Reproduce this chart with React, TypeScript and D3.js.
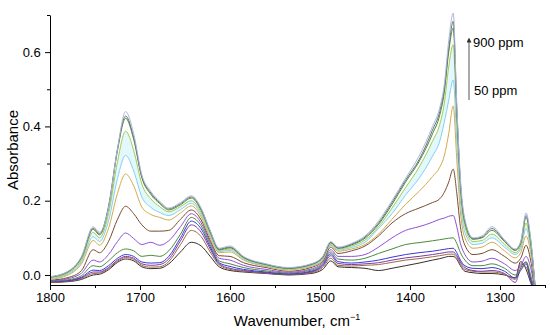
import React, { useEffect, useRef } from 'react';
import * as d3 from 'd3';

// wavenumber grid (cm-1) shared by all spectra
const wavenumbers = [1800, 1780, 1765, 1752, 1745, 1735, 1725, 1716, 1707, 1698, 1688, 1678, 1668, 1655, 1643, 1632, 1622, 1612, 1600, 1585, 1560, 1535, 1510, 1497, 1488, 1480, 1465, 1450, 1435, 1420, 1405, 1390, 1375, 1367, 1362, 1357, 1352, 1348, 1344, 1339, 1330, 1320, 1309, 1295, 1283, 1277, 1271, 1266, 1260];

// absorbance, highest concentration (900 ppm) first, 50 ppm last
const s1 = [-0.005, 0.01, 0.05, 0.13, 0.115, 0.18, 0.34, 0.44, 0.38, 0.27, 0.225, 0.198, 0.18, 0.195, 0.213, 0.18, 0.12, 0.072, 0.078, 0.05, 0.03, 0.02, 0.03, 0.05, 0.09, 0.075, 0.085, 0.105, 0.145, 0.2, 0.26, 0.32, 0.4, 0.45, 0.51, 0.63, 0.705, 0.46, 0.26, 0.15, 0.1, 0.105, 0.13, 0.095, 0.07, 0.09, 0.167, 0.1, -0.06];
const s2 = [-0.005, 0.009, 0.048, 0.126, 0.111, 0.185, 0.34, 0.428, 0.37, 0.265, 0.221, 0.195, 0.178, 0.192, 0.21, 0.177, 0.118, 0.07, 0.075, 0.048, 0.029, 0.019, 0.029, 0.048, 0.088, 0.073, 0.083, 0.102, 0.14, 0.195, 0.255, 0.31, 0.39, 0.44, 0.5, 0.61, 0.683, 0.45, 0.25, 0.145, 0.098, 0.102, 0.125, 0.092, 0.068, 0.088, 0.16, 0.095, -0.06];
const s3 = [-0.006, 0.008, 0.046, 0.123, 0.108, 0.18, 0.335, 0.422, 0.365, 0.262, 0.217, 0.192, 0.175, 0.189, 0.207, 0.174, 0.115, 0.068, 0.073, 0.047, 0.028, 0.018, 0.028, 0.047, 0.087, 0.072, 0.081, 0.099, 0.136, 0.19, 0.25, 0.305, 0.38, 0.43, 0.49, 0.6, 0.665, 0.44, 0.245, 0.14, 0.096, 0.1, 0.12, 0.09, 0.066, 0.085, 0.155, 0.09, -0.06];
const s4 = [-0.008, 0.005, 0.04, 0.115, 0.1, 0.165, 0.305, 0.387, 0.335, 0.245, 0.205, 0.184, 0.17, 0.184, 0.2, 0.168, 0.11, 0.066, 0.07, 0.045, 0.027, 0.017, 0.027, 0.045, 0.085, 0.07, 0.078, 0.094, 0.13, 0.18, 0.235, 0.29, 0.36, 0.405, 0.46, 0.56, 0.62, 0.41, 0.23, 0.13, 0.09, 0.093, 0.11, 0.083, 0.06, 0.078, 0.14, 0.08, -0.06];
const s5 = [-0.01, 0.002, 0.035, 0.103, 0.09, 0.145, 0.26, 0.322, 0.28, 0.21, 0.182, 0.168, 0.16, 0.176, 0.193, 0.162, 0.105, 0.063, 0.066, 0.042, 0.025, 0.016, 0.025, 0.042, 0.082, 0.067, 0.074, 0.088, 0.125, 0.165, 0.215, 0.26, 0.32, 0.36, 0.41, 0.47, 0.525, 0.36, 0.2, 0.115, 0.082, 0.085, 0.1, 0.075, 0.055, 0.07, 0.125, 0.07, -0.06];
const s6 = [-0.012, 0.0, 0.03, 0.093, 0.08, 0.125, 0.22, 0.272, 0.24, 0.183, 0.163, 0.155, 0.148, 0.167, 0.186, 0.156, 0.1, 0.06, 0.062, 0.04, 0.023, 0.014, 0.023, 0.04, 0.08, 0.064, 0.07, 0.082, 0.11, 0.15, 0.19, 0.225, 0.265, 0.29, 0.32, 0.38, 0.455, 0.31, 0.17, 0.1, 0.072, 0.075, 0.088, 0.065, 0.046, 0.06, 0.105, 0.06, -0.06];
const s7 = [-0.014, -0.007, 0.012, 0.068, 0.06, 0.09, 0.15, 0.185, 0.165, 0.135, 0.118, 0.118, 0.12, 0.15, 0.175, 0.148, 0.093, 0.052, 0.05, 0.033, 0.02, 0.01, 0.02, 0.037, 0.075, 0.058, 0.065, 0.078, 0.105, 0.14, 0.165, 0.18, 0.195, 0.205, 0.222, 0.25, 0.285, 0.22, 0.13, 0.08, 0.055, 0.058, 0.068, 0.05, 0.032, 0.045, 0.08, 0.04, -0.06];
const s8 = [-0.016, -0.01, 0.005, 0.04, 0.035, 0.055, 0.09, 0.113, 0.098, 0.082, 0.088, 0.08, 0.092, 0.13, 0.165, 0.14, 0.088, 0.045, 0.04, 0.026, 0.015, 0.007, 0.016, 0.033, 0.068, 0.05, 0.05, 0.055, 0.075, 0.1, 0.12, 0.13, 0.142, 0.15, 0.153, 0.158, 0.16, 0.13, 0.085, 0.055, 0.035, 0.037, 0.045, 0.03, 0.012, 0.025, 0.05, 0.02, -0.06];
const s9 = [-0.017, -0.013, -0.002, 0.025, 0.022, 0.038, 0.06, 0.07, 0.065, 0.05, 0.053, 0.05, 0.065, 0.11, 0.155, 0.132, 0.082, 0.038, 0.03, 0.02, 0.011, 0.005, 0.013, 0.03, 0.062, 0.043, 0.04, 0.045, 0.058, 0.07, 0.082, 0.087, 0.092, 0.095, 0.097, 0.099, 0.1, 0.085, 0.06, 0.04, 0.025, 0.025, 0.03, 0.018, 0.0, 0.015, 0.035, 0.0, -0.06];
const s10 = [-0.018, -0.015, -0.006, 0.013, 0.012, 0.025, 0.045, 0.055, 0.05, 0.035, 0.032, 0.033, 0.05, 0.1, 0.145, 0.124, 0.076, 0.033, 0.023, 0.015, 0.008, 0.003, 0.01, 0.027, 0.057, 0.036, 0.032, 0.035, 0.04, 0.048, 0.055, 0.06, 0.064, 0.067, 0.069, 0.071, 0.072, 0.06, 0.04, 0.025, 0.018, 0.017, 0.02, 0.01, -0.008, 0.012, 0.03, -0.01, -0.06];
const s11 = [-0.019, -0.016, -0.008, 0.008, 0.008, 0.02, 0.04, 0.05, 0.045, 0.03, 0.026, 0.028, 0.043, 0.092, 0.135, 0.115, 0.07, 0.03, 0.018, 0.012, 0.006, 0.002, 0.008, 0.024, 0.052, 0.031, 0.028, 0.03, 0.033, 0.04, 0.046, 0.05, 0.055, 0.058, 0.06, 0.062, 0.062, 0.052, 0.035, 0.02, 0.012, 0.01, 0.012, 0.004, -0.02, 0.02, 0.035, -0.015, -0.06];
const s12 = [-0.02, -0.017, -0.01, 0.004, 0.005, 0.017, 0.037, 0.047, 0.042, 0.026, 0.021, 0.022, 0.036, 0.082, 0.12, 0.103, 0.062, 0.027, 0.015, 0.01, 0.005, 0.001, 0.006, 0.02, 0.045, 0.026, 0.024, 0.026, 0.028, 0.034, 0.04, 0.044, 0.049, 0.052, 0.054, 0.056, 0.056, 0.047, 0.03, 0.015, 0.01, 0.008, 0.008, 0.002, -0.012, 0.03, 0.022, -0.01, -0.06];
const s13 = [-0.02, -0.018, -0.012, 0.0, 0.002, 0.014, 0.034, 0.043, 0.038, 0.022, 0.017, 0.018, 0.03, 0.062, 0.088, 0.078, 0.05, 0.022, 0.012, 0.008, 0.004, 0.0, 0.004, 0.015, 0.038, 0.022, 0.02, 0.018, 0.012, 0.018, 0.025, 0.032, 0.04, 0.044, 0.047, 0.05, 0.05, 0.042, 0.025, 0.01, 0.006, 0.004, 0.004, 0.0, -0.008, 0.036, 0.015, -0.02, -0.06];

const spectra = [s1, s2, s3, s4, s5, s6, s7, s8, s9, s10, s11, s12, s13];
const colors = ['#a9b8e0', '#707070', '#3e8e3e', '#a9c94e', '#86d0f0', '#d6a94a', '#7a4b2f', '#9050d8', '#4c8a3c', '#3838d8', '#7c3aa0', '#9c6a48', '#3a2d28'];

const yMajor = [0, 0.2, 0.4, 0.6];
const yMinor = [0.1, 0.3, 0.5, 0.7];
const xMajor = [1800, 1700, 1600, 1500, 1400, 1300];
const xMinor = [1750, 1650, 1550, 1450, 1350, 1250];

const App: React.FC = () => {
  const svgRef = useRef<SVGSVGElement>(null);

  useEffect(() => {
    if (!svgRef.current) return;
    const svg = d3.select(svgRef.current);
    svg.selectAll('*').remove();

    const width = 550;
    const height = 335;
    const margin = { top: 15, right: 5, bottom: 50, left: 50 };
    const font = "'Liberation Sans', Arial, sans-serif";

    svg.attr('width', width).attr('height', height);

    const x = d3.scaleLinear().domain([1800, 1250]).range([margin.left, width - margin.right]);
    const y = d3.scaleLinear().domain([-0.027, 0.7]).range([height - margin.bottom, margin.top]);

    svg.append('defs').append('clipPath').attr('id', 'plotclip')
      .append('rect')
      .attr('x', margin.left)
      .attr('y', 0)
      .attr('width', width - margin.left - margin.right)
      .attr('height', height - margin.bottom);

    const plot = svg.append('g').attr('clip-path', 'url(#plotclip)');

    // pale cyan band between the yellow-green and light blue spectra
    const band = d3.area<number>()
      .x((_, i) => x(wavenumbers[i]))
      .y0((_, i) => y(s5[i]))
      .y1((_, i) => y(s4[i]))
      .curve(d3.curveMonotoneX);
    plot.append('path')
      .attr('d', band(s4))
      .attr('fill', '#e3f8fc');

    const line = d3.line<number>()
      .x((_, i) => x(wavenumbers[i]))
      .y(d => y(d))
      .curve(d3.curveMonotoneX);

    // draw lowest concentration first so the top curves sit above
    spectra.slice().reverse().forEach((s, k) => {
      const idx = spectra.length - 1 - k;
      plot.append('path')
        .attr('d', line(s))
        .attr('fill', 'none')
        .attr('stroke', colors[idx])
        .attr('stroke-width', 1);
    });

    // y axis
    const yAxis = svg.append('g').attr('transform', `translate(${margin.left},0)`);
    yAxis.call(d3.axisLeft(y).tickValues(yMajor).tickSize(5).tickSizeOuter(0).tickFormat(d3.format('.1f')));
    yAxis.append('g').call(d3.axisLeft(y).tickValues(yMinor).tickSize(3).tickSizeOuter(0).tickFormat(() => ''))
      .select('.domain').remove();
    yAxis.selectAll('text')
      .style('font-size', '13px')
      .style('font-family', font)
      .attr('fill', '#000')
      .attr('dx', '-0.1em');
    yAxis.selectAll('line, path').attr('stroke', '#000');

    // x axis
    const xAxis = svg.append('g').attr('transform', `translate(0,${height - margin.bottom})`);
    xAxis.call(d3.axisBottom(x).tickValues(xMajor).tickSize(5).tickSizeOuter(0).tickFormat(d3.format('d')));
    xAxis.append('g').call(d3.axisBottom(x).tickValues(xMinor).tickSize(3).tickSizeOuter(0).tickFormat(() => ''))
      .select('.domain').remove();
    xAxis.selectAll('text')
      .style('font-size', '13px')
      .style('font-family', font)
      .attr('fill', '#000');
    xAxis.selectAll('line, path').attr('stroke', '#000');

    // axis titles
    svg.append('text')
      .attr('transform', `translate(18,${(margin.top + height - margin.bottom) / 2}) rotate(-90)`)
      .attr('text-anchor', 'middle')
      .style('font-family', font)
      .style('font-size', '15px')
      .text('Absorbance');

    const xt = svg.append('text')
      .attr('x', 297)
      .attr('y', 326)
      .attr('text-anchor', 'middle')
      .style('font-family', font)
      .style('font-size', '15px')
      .text('Wavenumber, cm');
    xt.append('tspan')
      .attr('dy', -6)
      .style('font-size', '9px')
      .text('\u22121');

    // concentration arrow
    svg.append('defs').append('marker')
      .attr('id', 'arrowhead')
      .attr('viewBox', '0 0 6 6')
      .attr('refX', 3)
      .attr('refY', 3)
      .attr('markerWidth', 5)
      .attr('markerHeight', 5)
      .attr('orient', 'auto')
      .append('path')
      .attr('d', 'M0,0 L6,3 L0,6 Z')
      .attr('fill', '#333');

    svg.append('line')
      .attr('x1', 469).attr('x2', 469)
      .attr('y1', 100).attr('y2', 40)
      .attr('stroke', '#555')
      .attr('stroke-width', 1)
      .attr('marker-end', 'url(#arrowhead)');

    svg.append('text')
      .attr('x', 473).attr('y', 47)
      .style('font-family', font)
      .style('font-size', '13px')
      .text('900 ppm');

    svg.append('text')
      .attr('x', 474).attr('y', 95)
      .style('font-family', font)
      .style('font-size', '13px')
      .text('50 ppm');
  }, []);

  return (
    <div style={{ position: 'absolute', left: 0, top: 0, background: '#fff' }}>
      <svg ref={svgRef} style={{ display: 'block' }}></svg>
    </div>
  );
};

export default App;
